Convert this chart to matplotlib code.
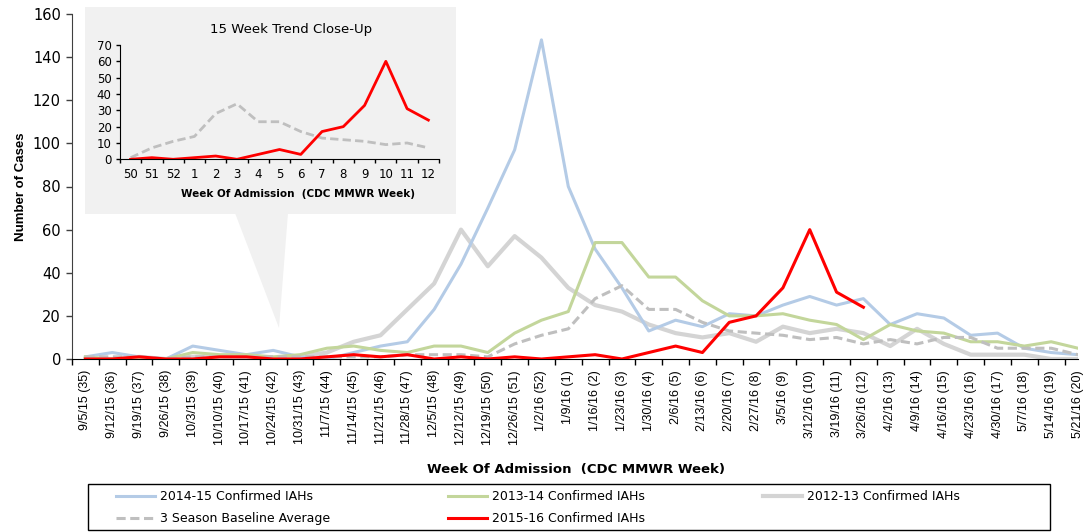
import numpy as np
import matplotlib
matplotlib.use("Agg")
import matplotlib.pyplot as plt
from matplotlib.patches import Rectangle, Polygon

# Semaines (CDC MMWR) et données
weeks = ["9/5/15 (35)", "9/12/15 (36)", "9/19/15 (37)", "9/26/15 (38)", "10/3/15 (39)",
         "10/10/15 (40)", "10/17/15 (41)", "10/24/15 (42)", "10/31/15 (43)", "11/7/15 (44)",
         "11/14/15 (45)", "11/21/15 (46)", "11/28/15 (47)", "12/5/15 (48)", "12/12/15 (49)",
         "12/19/15 (50)", "12/26/15 (51)", "1/2/16 (52)", "1/9/16 (1)", "1/16/16 (2)",
         "1/23/16 (3)", "1/30/16 (4)", "2/6/16 (5)", "2/13/16 (6)", "2/20/16 (7)",
         "2/27/16 (8)", "3/5/16 (9)", "3/12/16 (10)", "3/19/16 (11)", "3/26/16 (12)",
         "4/2/16 (13)", "4/9/16 (14)", "4/16/16 (15)", "4/23/16 (16)", "4/30/16 (17)",
         "5/7/16 (18)", "5/14/16 (19)", "5/21/16 (20)"]

s2014_15 = [1, 3, 1, 0, 6, 4, 2, 4, 1, 0, 3, 6, 8, 23, 44, 70, 97, 148, 80, 51,
            33, 13, 18, 15, 21, 20, 25, 29, 25, 28, 16, 21, 19, 11, 12, 5, 3, 2]
s2013_14 = [1, 0, 0, 0, 3, 2, 2, 1, 2, 5, 6, 4, 3, 6, 6, 3, 12, 18, 22, 54,
            54, 38, 38, 27, 20, 20, 21, 18, 16, 9, 16, 13, 12, 8, 8, 6, 8, 5]
s2012_13 = [0, 0, 1, 0, 1, 1, 1, 0, 1, 3, 8, 11, 23, 35, 60, 43, 57, 47, 33, 25,
            22, 16, 12, 10, 12, 8, 15, 12, 14, 12, 6, 14, 7, 2, 2, 2, 0, 0]
baseline = [1, 1, 1, 0, 1, 1, 1, 1, 1, 1, 1, 1, 2, 2, 2, 1, 7, 11, 14, 28,
            34, 23, 23, 17, 13, 12, 11, 9, 10, 7, 9, 7, 10, 10, 5, 5, 5, 2]
s2015_16 = [0, 0, 1, 0, 0, 1, 1, 0, 0, 1, 2, 1, 2, 0, 1, 0, 1, 0, 1, 2,
            0, 3, 6, 3, 17, 20, 33, 60, 31, 24]

# Close-up: semaines 50 à 12
close_weeks = ["50", "51", "52", "1", "2", "3", "4", "5", "6", "7", "8", "9", "10", "11", "12"]
close_start = 15

c_blue = "#b4cbe6"
c_green = "#c3d69b"
c_gray = "#d4d4d4"
c_dash = "#bfbfbf"
c_red = "#ff0000"

W, H = 1086, 532
fig = plt.figure(figsize=(W / 100, H / 100), dpi=100)

def px(x0, y0, x1, y1):
    return [x0 / W, 1 - y1 / H, (x1 - x0) / W, (y1 - y0) / H]

# Bulle du close-up (derrière tout)
box_col = "#f1f1f1"
fig.add_artist(Rectangle((85 / W, 1 - 214 / H), 371 / W, 207 / H, transform=fig.transFigure,
                         facecolor=box_col, edgecolor="none", zorder=-1))
fig.add_artist(Polygon([(235 / W, 1 - 213 / H), (288 / W, 1 - 213 / H), (279 / W, 1 - 328 / H)],
                       closed=True, transform=fig.transFigure, facecolor=box_col,
                       edgecolor="none", zorder=-1))

ax = fig.add_axes(px(72, 14, 1078, 359))
ax.set_facecolor("none")
x = np.arange(len(weeks))
l_gray, = ax.plot(x, s2012_13, color=c_gray, lw=3.0, label="2012-13 Confirmed IAHs", zorder=2)
l_blue, = ax.plot(x, s2014_15, color=c_blue, lw=2.2, label="2014-15 Confirmed IAHs", zorder=3)
l_green, = ax.plot(x, s2013_14, color=c_green, lw=2.2, label="2013-14 Confirmed IAHs", zorder=3)
l_dash, = ax.plot(x, baseline, color=c_dash, lw=2.2, ls=(0, (3, 1.5)),
                  label="3 Season Baseline Average", zorder=4)
l_red, = ax.plot(np.arange(len(s2015_16)), s2015_16, color=c_red, lw=2.2,
                 label="2015-16 Confirmed IAHs", zorder=5)

ax.set_xlim(-0.5, len(weeks) - 1)
ax.set_ylim(0, 160)
ax.set_yticks(range(0, 161, 20))
ax.tick_params(axis="y", direction="out", length=4, width=1, pad=4, labelsize=10.5, color="#404040")
ax.set_xticks(np.arange(-0.5, len(weeks) - 1, 1))
ax.set_xticklabels([])
ax.tick_params(axis="x", which="major", direction="out", length=4, width=1, color="black")
ax.set_xticks(x, labels=weeks, minor=True)
ax.tick_params(axis="x", which="minor", length=0, pad=8)
for t in ax.get_xticklabels(minor=True):
    t.set_rotation(90)
    t.set_family("Liberation Sans")
    t.set_fontsize(9)
    t.set_va("top")
    t.set_ha("center")
for sp in ["top", "right"]:
    ax.spines[sp].set_visible(False)
ax.spines["left"].set_color("#404040")
ax.spines["bottom"].set_color("black")
ax.set_ylabel("Number of Cases", fontsize=9.5, fontweight="bold", family="Liberation Sans", labelpad=4)
fig.text(576 / W, 1 - 469 / H, "Week Of Admission  (CDC MMWR Week)", ha="center", va="center",
         fontsize=9.5, fontweight="bold")

ins = fig.add_axes(px(120, 45, 439, 159.3))
ins.set_facecolor("none")
xi = np.arange(len(close_weeks))
ins.plot(xi, baseline[close_start:close_start + len(close_weeks)], color=c_dash, lw=2.0, ls=(0, (3, 1.5)))
ins.plot(xi, s2015_16[close_start:close_start + len(close_weeks)], color=c_red, lw=2.0)
ins.set_xlim(-0.5, len(close_weeks) - 0.5)
ins.set_ylim(0, 70)
ins.set_yticks(range(0, 71, 10))
ins.tick_params(axis="y", direction="out", length=3, width=1, pad=3, labelsize=8.5)
ins.set_xticks(np.arange(-0.5, len(close_weeks), 1))
ins.set_xticklabels([])
ins.tick_params(axis="x", which="major", direction="out", length=3, width=1)
ins.set_xticks(xi, labels=close_weeks, minor=True)
ins.tick_params(axis="x", which="minor", length=0, pad=6, labelsize=8.5)
for sp in ["top", "right"]:
    ins.spines[sp].set_visible(False)
fig.text(291 / W, 1 - 29 / H, "15 Week Trend Close-Up", ha="center", va="center", fontsize=9.5)
fig.text(298 / W, 1 - 194 / H, "Week Of Admission  (CDC MMWR Week)", ha="center", va="center",
         fontsize=7.5, fontweight="bold")

# Légende: cadre à part, entrées réparties dans la largeur
fig.add_artist(Rectangle((88 / W, 1 - 530 / H), (1050 - 88) / W, 46 / H, transform=fig.transFigure,
                         facecolor="white", edgecolor="black", lw=1.0, zorder=1))
handles = [l_blue, l_dash, l_green, l_red, l_gray]
leg = fig.legend(handles=handles, labels=[h.get_label() for h in handles], ncol=3,
                 loc="upper left", bbox_to_anchor=(116 / W, 1 - 528 / H, (960 - 116) / W, 38 / H),
                 mode="expand", fontsize=9, frameon=False, borderpad=0, borderaxespad=0,
                 handlelength=3.1, handletextpad=0.4, labelspacing=0.75)
leg.set_zorder(2)

fig.savefig("out.png", dpi=100)
